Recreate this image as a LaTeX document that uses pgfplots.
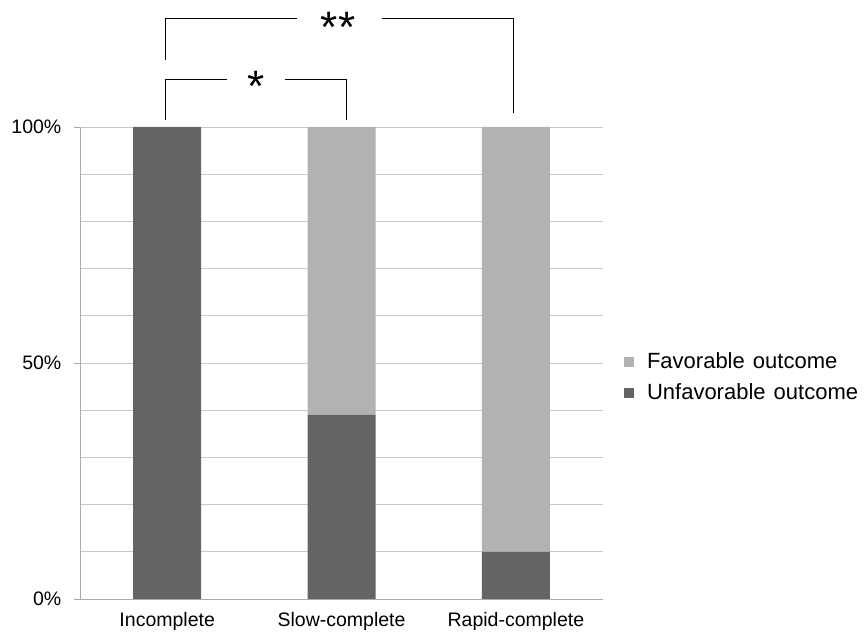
\documentclass[border=0pt]{standalone}
\usepackage{pgfplots}
\pgfplotsset{compat=1.18}
\usepackage{fontspec}
\setmainfont{Liberation Sans}
\definecolor{darkbar}{RGB}{100,100,100}
\definecolor{lightbar}{RGB}{178,178,178}
\definecolor{gridc}{RGB}{200,200,200}
\definecolor{axc}{RGB}{170,170,170}
\begin{document}
\fontsize{19.5}{23}\selectfont
\begin{tikzpicture}
\begin{axis}[
  name=ax,
  scale only axis,
  width=523pt, height=472pt,
  ybar stacked,
  bar width=68pt,
  xmin=-0.5, xmax=2.5,
  ymin=0, ymax=100,
  clip=false,
  axis x line*=bottom,
  axis y line*=left,
  axis line style={axc, line width=0.8pt, -},
  xtick={0,1,2},
  xticklabels={Incomplete,Slow-complete,Rapid-complete},
  major x tick style={draw=none},
  extra x ticks={-0.5,0.5,1.5,2.5},
  extra x tick labels={},
  extra x tick style={major tick length=6pt, tick align=outside, tick style={axc, line width=0.8pt}, grid=none},
  xticklabel style={yshift=-1pt},
  ytick={0,50,100},
  yticklabels={0\%,50\%,100\%},
  minor ytick={10,20,30,40,60,70,80,90},
  ymajorgrids, yminorgrids,
  grid style={gridc, line width=0.8pt},
  minor grid style={gridc, line width=0.8pt},
  major y tick style={axc, line width=0.8pt},
  minor y tick style={draw=none},
  tick align=outside,
  major tick length=6pt,
  minor tick length=0pt,
  yticklabel style={xshift=-6pt},
  /pgf/number format/assume math mode=true,
  ticklabel style={font=\fontsize{19.5}{23}\selectfont},
  reverse legend,
  legend style={at={(rel axis cs:1.034,0.469)}, anchor=west, draw=none, fill=none,
    font=\fontsize{22}{25}\selectfont, row sep=8pt,
    /tikz/every even column/.append style={column sep=0pt}},
  legend cell align=left,
  legend image code/.code={\fill[#1] (0pt,-5pt) rectangle (10pt,5pt);},
]
\addplot[fill=darkbar, draw=none] coordinates {(0,100) (1,39) (2,10)};
\addlegendentry{\hspace{11pt}Unfavorable\hspace{2pt} outcome}
\addplot[fill=lightbar, draw=none] coordinates {(0,0) (1,61) (2,90)};
\addlegendentry{\hspace{11pt}Favorable\hspace{2pt} outcome}
% significance brackets
\draw[black, line width=0.9pt] (axis cs:-0.012,101.5) -- (axis cs:-0.012,110.0) -- (axis cs:0.343,110.0);
\draw[black, line width=0.9pt] (axis cs:0.676,110.0) -- (axis cs:1.026,110.0) -- (axis cs:1.026,101.5);
\node[anchor=base, inner sep=0pt, font=\fontsize{44}{44}\selectfont] at (axis cs:0.51,105.5) {*};
\draw[black, line width=0.9pt] (axis cs:-0.012,114.2) -- (axis cs:-0.012,122.9) -- (axis cs:0.745,122.9);
\draw[black, line width=0.9pt] (axis cs:1.232,122.9) -- (axis cs:1.984,122.9) -- (axis cs:1.984,103.0);
\node[anchor=base, inner sep=0pt, font=\fontsize{44}{44}\selectfont] at (axis cs:0.98,118.0) {**};
\coordinate (bbll) at (axis cs:-0.959,-7.42);
\coordinate (bbur) at (axis cs:4.014,126.9);
\end{axis}
\pgfresetboundingbox
\path (bbll) rectangle (bbur);
\end{tikzpicture}
\end{document}
